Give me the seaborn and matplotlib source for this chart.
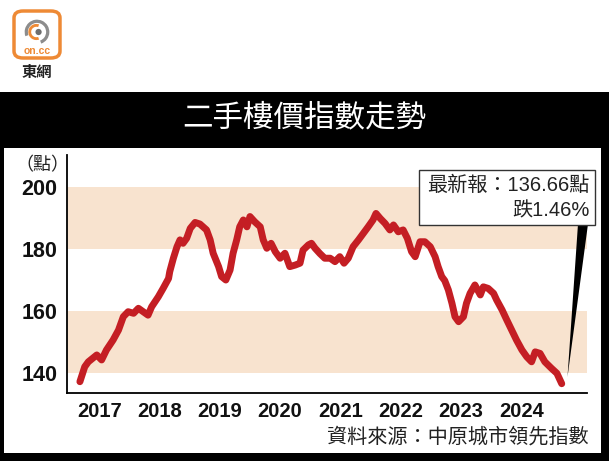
import numpy as np
import pandas as pd
import matplotlib
matplotlib.use("Agg")
import matplotlib.pyplot as plt
import seaborn as sns
from matplotlib.patches import Rectangle, FancyBboxPatch, Polygon, Circle, Wedge

# ---- data ----
years = [2016.68, 2016.76, 2016.82, 2016.96, 2017.04, 2017.12, 2017.23, 2017.32, 2017.40, 2017.48,
         2017.57, 2017.65, 2017.73, 2017.81, 2017.87, 2017.98, 2018.06, 2018.15, 2018.17, 2018.23,
         2018.29, 2018.34, 2018.39, 2018.45, 2018.51, 2018.59, 2018.67, 2018.78, 2018.84, 2018.89,
         2018.98, 2019.03, 2019.10, 2019.17, 2019.22, 2019.28, 2019.33, 2019.39, 2019.45, 2019.50,
         2019.58, 2019.67, 2019.72, 2019.78, 2019.85, 2019.92, 2020.00, 2020.08, 2020.16, 2020.25,
         2020.33, 2020.38, 2020.47, 2020.52, 2020.58, 2020.66, 2020.74, 2020.83, 2020.91, 2020.99,
         2021.06, 2021.13, 2021.21, 2021.30, 2021.38, 2021.46, 2021.54, 2021.59, 2021.66, 2021.74,
         2021.82, 2021.88, 2021.96, 2022.04, 2022.11, 2022.18, 2022.24, 2022.32, 2022.40, 2022.49,
         2022.57, 2022.62, 2022.68, 2022.73, 2022.79, 2022.85, 2022.90, 2022.96, 2023.04, 2023.09,
         2023.15, 2023.23, 2023.32, 2023.37, 2023.45, 2023.54, 2023.59, 2023.68, 2023.76, 2023.84,
         2023.92, 2024.01, 2024.09, 2024.17, 2024.23, 2024.31, 2024.39, 2024.50, 2024.59, 2024.67]
index_values = [137.3, 142.1, 143.7, 145.9, 144.3, 147.5, 150.7, 153.9, 158.2, 159.8,
                159.3, 160.9, 159.8, 158.7, 161.4, 164.6, 167.3, 170.5, 172.7, 177.0,
                180.7, 182.9, 181.8, 183.4, 186.6, 188.5, 188.0, 186.1, 182.9, 178.6,
                174.3, 171.1, 170.0, 173.2, 178.6, 182.9, 187.1, 189.3, 187.1, 190.4,
                188.7, 187.1, 182.9, 180.2, 181.8, 179.1, 177.0, 178.6, 174.3, 174.8,
                175.4, 179.6, 181.3, 181.8, 180.2, 178.5, 177.0, 177.0, 175.9, 177.5,
                175.4, 177.0, 180.7, 182.9, 185.0, 187.1, 189.3, 191.4, 189.8, 188.2,
                186.1, 187.7, 185.5, 186.1, 183.4, 179.1, 177.5, 182.3, 182.3, 180.7,
                177.5, 174.3, 171.1, 169.8, 166.8, 162.5, 158.2, 156.6, 158.2, 162.5,
                165.7, 168.4, 165.2, 167.8, 167.3, 165.7, 163.6, 160.4, 157.1, 153.9,
                150.7, 147.5, 145.3, 143.7, 146.9, 146.4, 143.7, 141.6, 140.0, 136.66]
year_ticks = [2017, 2018, 2019, 2020, 2021, 2022, 2023, 2024]
year_labels = ["2017", "2018", "2019", "2020", "2021", "2022", "2023", "2024"]
y_ticks = [140, 160, 180, 200]
bands = [(140, 160), (180, 200)]

title = "二手樓價指數走勢"
unit_label = "（點）"
source = "資料來源：中原城市領先指數"
latest_line1 = "最新報：136.66點"
latest_line2 = "跌1.46%"
logo_name = "東網"

df = pd.DataFrame({"year": years, "index": index_values})

sns.set_theme(style="white")
plt.rcParams["font.family"] = ["Liberation Sans", "Noto Sans CJK TC", "DejaVu Sans"]
CJK = ["Noto Sans CJK TC", "DejaVu Sans"]

W, H = 609, 461
fig = plt.figure(figsize=(W / 100, H / 100), dpi=100)
fig.patch.set_facecolor("white")


def fx(px):
    return px / W


def fy(py):
    return 1 - py / H


# background frame
fig.add_artist(Rectangle((0, 0), 1, fy(92), transform=fig.transFigure, facecolor="black",
                         edgecolor="none", zorder=0))
fig.add_artist(Rectangle((fx(4), fy(453)), fx(601) - fx(4), fy(148) - fy(453),
                         transform=fig.transFigure, facecolor="white", edgecolor="none", zorder=0))

# logo
orange = "#ee8a35"
fig.add_artist(FancyBboxPatch((fx(14), fy(58)), fx(46), fy(11) - fy(58),
                              boxstyle="round,pad=0,rounding_size=0.015",
                              transform=fig.transFigure, facecolor="white", edgecolor=orange,
                              linewidth=2.5, zorder=1))
logo_ax = fig.add_axes([fx(24), fy(47), fx(26), fy(17) - fy(47)])
logo_ax.set_zorder(3)
logo_ax.set_xlim(-1, 1)
logo_ax.set_ylim(-1, 1)
logo_ax.set_aspect("equal")
logo_ax.axis("off")
logo_ax.add_patch(Wedge((0.0, 0.0), 0.95, -70, 200, width=0.25, facecolor="#8c8c8c", edgecolor="none"))
logo_ax.add_patch(Wedge((-0.05, 0.0), 0.62, 70, 290, width=0.22, facecolor=orange, edgecolor="none"))
logo_ax.add_patch(Circle((0.12, 0.0), 0.24, facecolor="#6e6e6e", edgecolor="none"))
fig.text(fx(37), fy(51.5), "on.cc", color=orange, fontsize=7.5, fontweight="bold",
         ha="center", va="center", zorder=4)
fig.text(fx(37), fy(72), logo_name, color="#222222", fontsize=11, fontweight="bold",
         ha="center", va="center", family=CJK)

# title
fig.text(fx(304), fy(118), title, color="white", fontsize=22, ha="center", va="center",
         family=CJK)

# main axes
ax = fig.add_axes([fx(67), fy(393), fx(587) - fx(67), fy(155) - fy(393)])
ax.set_facecolor("none")
for lo, hi in bands:
    ax.axhspan(lo, hi, color="#f8e3cf", linewidth=0, zorder=0)

sns.lineplot(data=df, x="year", y="index", ax=ax, color="#c41e24", linewidth=5.0,
             solid_capstyle="round", solid_joinstyle="round", zorder=3)

ax.set_xlim(2016.466, 2025.089)
ax.set_ylim(133.67, 210.19)
ax.set_xticks(year_ticks)
ax.set_xticklabels(year_labels)
ax.set_yticks(y_ticks)
ax.set_yticklabels([str(v) for v in y_ticks])
ax.set_xlabel("")
ax.set_ylabel("")
for s in ["top", "right"]:
    ax.spines[s].set_visible(False)
for s in ["left", "bottom"]:
    ax.spines[s].set_color("black")
    ax.spines[s].set_linewidth(1.3)
ax.tick_params(axis="y", direction="out", length=6, width=1.3, color="black",
               labelsize=15.5, pad=1)
ax.tick_params(axis="x", direction="out", length=4.5, width=1.3, color="black",
               labelsize=14.5, pad=2)
for lab in ax.get_xticklabels() + ax.get_yticklabels():
    lab.set_fontweight("bold")
    lab.set_color("#111111")

fig.text(fx(42), fy(165), unit_label, fontsize=13, ha="center", va="center", color="#222222",
         family=CJK)

# source
fig.text(fx(589), fy(437), source, fontsize=14.5, ha="right", va="center", color="#222222",
         family=CJK)

# pointer wedge and annotation box
fig.add_artist(Polygon([(fx(578), fy(224)), (fx(588), fy(224)), (fx(567.5), fy(377))],
                       closed=True, transform=fig.transFigure, facecolor="black",
                       edgecolor="none", zorder=5))
fig.add_artist(Rectangle((fx(419), fy(225)), fx(595) - fx(419), fy(170) - fy(225),
                         transform=fig.transFigure, facecolor="white", edgecolor="#333333",
                         linewidth=1.0, zorder=6))
fig.text(fx(590), fy(185), latest_line1, fontsize=14.5, ha="right", va="center",
         color="#222222", zorder=7)
fig.text(fx(590), fy(211), latest_line2, fontsize=14.5, ha="right", va="center",
         color="#222222", zorder=7)

fig.savefig("out.png", dpi=100)
